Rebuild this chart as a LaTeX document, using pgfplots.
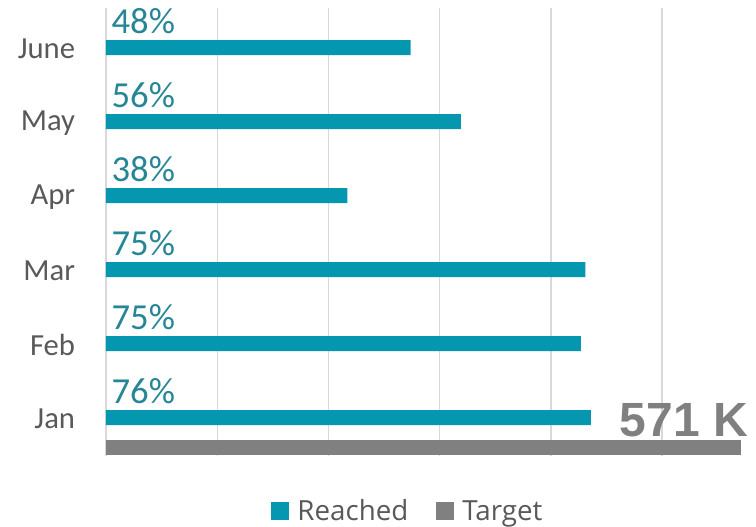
\documentclass[border=0pt]{standalone}
\usepackage{pgfplots}
\pgfplotsset{compat=1.18}
\usepackage{fontspec}
\setmainfont{Carlito}
\newfontfamily\legfont{Open Sans}
\newfontfamily\boldfont{Liberation Sans}
\definecolor{barteal}{RGB}{5,150,176}
\definecolor{labteal}{RGB}{38,134,150}
\definecolor{bargray}{RGB}{128,128,128}
\definecolor{txtgray}{RGB}{89,89,89}
\definecolor{gridgray}{RGB}{217,217,217}
\begin{document}
\begin{tikzpicture}
\useasboundingbox (-79.5pt,-53.25pt) rectangle (487.5pt,342pt);
\begin{axis}[
 at={(0pt,0pt)}, anchor=south west,
 scale only axis, width=476.25pt, height=336pt,
 xmin=0, xmax=571, ymin=0.48, ymax=6.534,
 xtick={0,100,...,500}, xticklabels={}, xmajorgrids,
 grid style={draw=gridgray, line width=1pt},
 ytick={1,...,6}, yticklabels={Jan,Feb,Mar,Apr,May,June},
 major tick length=0pt,
 axis line style={draw=none},
 yticklabel style={font=\fontsize{23}{23}\selectfont, text=txtgray, inner sep=0pt, xshift=-23pt, yshift=-1pt},
 legend style={at={(0.474,-0.123)}, anchor=center, draw=none, legend columns=-1,
   font=\legfont\fontsize{20.8}{21}\selectfont, text=txtgray,
   nodes={inner sep=0pt},
   /tikz/every odd column/.append style={column sep=6pt},
   /tikz/every even column/.append style={column sep=21pt}},
 mylegend/.style={legend image code/.code={\fill[##1] (0pt,-6.75pt) rectangle (13.5pt,6.75pt);}},
 clip=false,
]
\addplot[xbar, bar shift=0pt, bar width=11.25pt, fill=barteal, draw=none, mylegend]
 coordinates {(436,1) (427,2) (431,3) (217,4) (319,5) (274,6)};
\addlegendentry{Reached}
\addplot[xbar, bar shift=0pt, bar width=11.25pt, fill=bargray, draw=none, mylegend,
 nodes near coords, point meta=explicit symbolic,
 every node near coord/.style={anchor=base east, font=\boldfont\bfseries\fontsize{36}{36}\selectfont, text=bargray, xshift=5.25pt, yshift=7.9pt, inner sep=0pt}]
 coordinates {(571,0.595) [571 K]};
\addlegendentry{Target}
\addplot[forget plot, draw=none, mark=none,
 nodes near coords, point meta=explicit symbolic,
 every node near coord/.style={anchor=base west, font=\fontsize{27.5}{28}\selectfont, text=labteal, inner sep=0pt, xshift=4pt, yshift=10.2pt}]
 coordinates {(0,1) [76\%] (0,2) [75\%] (0,3) [75\%] (0,4) [38\%] (0,5) [56\%] (0,6) [48\%]};
\end{axis}
\end{tikzpicture}
\end{document}
